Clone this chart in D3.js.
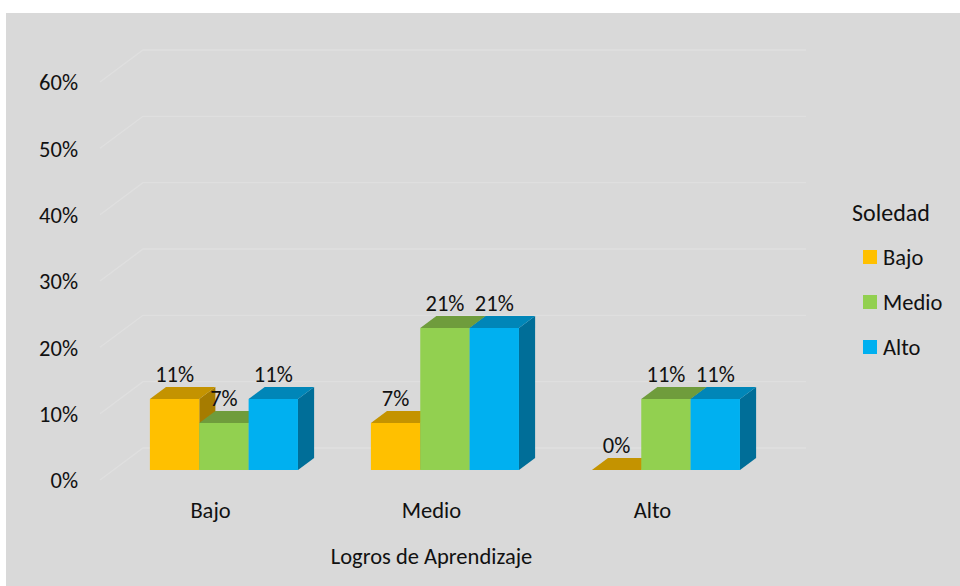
<!DOCTYPE html>
<html><head><meta charset="utf-8">
<script src="https://cdn.jsdelivr.net/npm/d3@7"></script>
<style>
html,body{margin:0;padding:0;background:#fff;}
svg text{font-family:Carlito, Calibri, Lato, "Open Sans", sans-serif;fill:#111;}
</style></head>
<body>
<svg id="chart" width="960" height="586"></svg>
<script>
const categories = ["Bajo", "Medio", "Alto"];
const seriesNames = ["Bajo", "Medio", "Alto"];
const seriesColors = ["#FFC000", "#92D050", "#00B0F0"];
const topColors = ["#C49300", "#6F9C3C", "#0086B8"];
const sideColors = ["#A67C00", "#5E8733", "#006E98"];
// values per category, one per series (Soledad level)
const valuesBajo = [0.107, 0.071, 0.107];
const valuesMedio = [0.071, 0.214, 0.214];
const valuesAlto = [0.0, 0.107, 0.107];
const yTicks = [0, 0.1, 0.2, 0.3, 0.4, 0.5, 0.6];
const legendTitle = "Soledad";
const axisTitle = "Logros de Aprendizaje";

const values = [valuesBajo, valuesMedio, valuesAlto];
const FS = 22.5;

const svg = d3.select("#chart");
svg.append("rect").attr("x", 6).attr("y", 13).attr("width", 954).attr("height", 573).attr("fill", "#D9D9D9");

const left = 100, right = 763, depthX = 43, depthY = 32;
const y = d3.scaleLinear().domain([0, 0.6]).range([480, 82]);
const x0 = d3.scaleBand().domain(categories).range([left, right]).paddingInner(0.33).paddingOuter(0.165);
const x1 = d3.scaleBand().domain(seriesNames).range([0, x0.bandwidth()]);
const d0 = 10 / 32, d1 = 22 / 32;
const proj = (x, v, d) => [x + d * depthX, y(v) - d * depthY];

// gridlines
const grid = svg.append("g");
yTicks.forEach(t => {
  const p = [proj(left, t, 0), proj(left, t, 1), proj(right, t, 1)];
  grid.append("path").attr("d", d3.line()(p)).attr("fill", "none")
    .attr("stroke", "#DFDFDF").attr("stroke-width", 1.3);
});

// y axis
const yAxis = svg.append("g").attr("transform", `translate(${left},0)`)
  .call(d3.axisLeft(y).tickValues(yTicks).tickSize(0).tickPadding(22).tickFormat(d3.format(".0%")));
yAxis.select(".domain").remove();
yAxis.selectAll("text").attr("font-size", FS).attr("dy", "0.35em")
  .style("font-family", "Carlito, Calibri, Lato, sans-serif").attr("fill", "#111");

// x axis
const xAxis = svg.append("g").attr("transform", `translate(0,480)`)
  .call(d3.axisBottom(x0).tickSize(0).tickPadding(30));
xAxis.select(".domain").remove();
xAxis.selectAll("text").attr("font-size", FS).attr("dy", "0.35em")
  .style("font-family", "Carlito, Calibri, Lato, sans-serif").attr("fill", "#111");

// bars
const bars = svg.append("g");
categories.forEach((c, ci) => {
  seriesNames.forEach((s, si) => {
    const v = values[ci][si];
    const xl = x0(c) + x1(s), xr = xl + x1.bandwidth();
    const g = bars.append("g");
    const side = [proj(xr, 0, d0), proj(xr, 0, d1), proj(xr, v, d1), proj(xr, v, d0)];
    const top = [proj(xl, v, d0), proj(xl, v, d1), proj(xr, v, d1), proj(xr, v, d0)];
    const front = [proj(xl, 0, d0), proj(xr, 0, d0), proj(xr, v, d0), proj(xl, v, d0)];
    if (v > 0) g.append("path").attr("d", d3.line()(side) + "Z").attr("fill", sideColors[si]);
    g.append("path").attr("d", d3.line()(top) + "Z").attr("fill", topColors[si]);
    if (v > 0) g.append("path").attr("d", d3.line()(front) + "Z").attr("fill", seriesColors[si]);
  });
});
// labels
const labels = svg.append("g");
categories.forEach((c, ci) => {
  seriesNames.forEach((s, si) => {
    const v = values[ci][si];
    const xl = x0(c) + x1(s);
    const [px, py] = proj(xl + x1.bandwidth() / 2, v, d1);
    labels.append("text").attr("x", px - (d1 * depthX) + d0 * depthX).attr("y", py - 5)
      .attr("text-anchor", "middle").attr("font-size", FS)
      .text(d3.format(".0%")(v));
  });
});

svg.append("text").attr("x", (left + right) / 2).attr("y", 556).attr("dy", "0.35em")
  .attr("text-anchor", "middle").attr("font-size", FS).text(axisTitle);

// legend
const lg = svg.append("g");
lg.append("text").attr("x", 852).attr("y", 213).attr("dy", "0.35em").attr("font-size", 24).text(legendTitle);
seriesNames.forEach((s, i) => {
  const yy = 257 + i * 45;
  lg.append("rect").attr("x", 863).attr("y", yy - 7).attr("width", 14).attr("height", 14).attr("fill", seriesColors[i]);
  lg.append("text").attr("x", 883).attr("y", yy).attr("dy", "0.35em").attr("font-size", FS).text(s);
});
</script>
</body></html>
